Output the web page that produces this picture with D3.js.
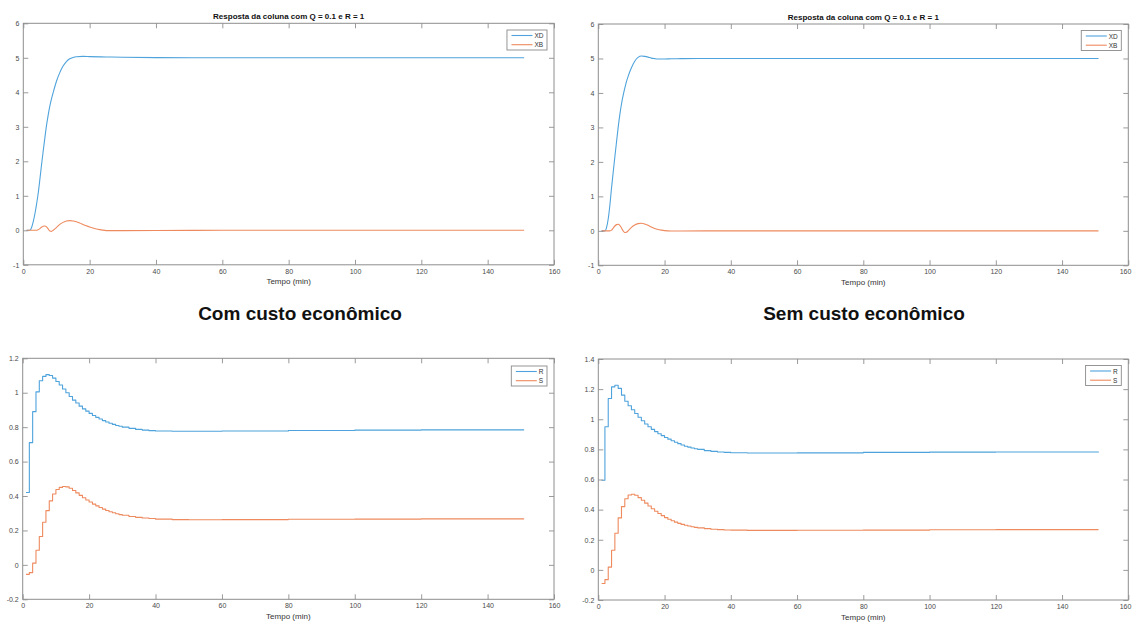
<!DOCTYPE html>
<html>
<head>
<meta charset="utf-8">
<script src="https://cdn.jsdelivr.net/npm/d3@7"></script>
<style>
  html, body { margin: 0; padding: 0; background: #fff; }
  svg { display: block; font-family: "Liberation Sans", Arial, Helvetica, sans-serif; }
</style>
</head>
<body>
<svg id="fig" width="1132" height="623"></svg>
<script>
// ---------- shared axis settings ----------
const xTicks = [0, 20, 40, 60, 80, 100, 120, 140, 160];
const xTickLabels = ["0", "20", "40", "60", "80", "100", "120", "140", "160"];
const yTicksResp = [-1, 0, 1, 2, 3, 4, 5, 6];
const yTickLabelsResp = ["-1", "0", "1", "2", "3", "4", "5", "6"];
const yTicksCtrlCom = [-0.2, 0, 0.2, 0.4, 0.6, 0.8, 1, 1.2];
const yTickLabelsCtrlCom = ["-0.2", "0", "0.2", "0.4", "0.6", "0.8", "1", "1.2"];
const yTicksCtrlSem = [-0.2, 0, 0.2, 0.4, 0.6, 0.8, 1, 1.2, 1.4];
const yTickLabelsCtrlSem = ["-0.2", "0", "0.2", "0.4", "0.6", "0.8", "1", "1.2", "1.4"];

const titleText = "Resposta da coluna com Q = 0.1 e R = 1";
const xLabel = "Tempo (min)";
const respNames = ["XD", "XB"];
const ctrlNames = ["R", "S"];
const caseLabels = ["Com custo econômico", "Sem custo econômico"];

// ---------- column response, with economic cost ----------
const tXdCom = [1, 2, 2.5, 3, 3.5, 4, 4.5, 5, 5.5, 6, 6.5, 7, 7.5, 8, 8.5, 9, 10, 11, 12, 13, 14, 15, 16, 18, 20, 25, 30, 40, 60, 100, 151];
const xdCom  = [0, 0, 0.08, 0.25, 0.48, 0.76, 1.08, 1.48, 1.9, 2.3, 2.68, 3.04, 3.34, 3.6, 3.81, 3.99, 4.32, 4.57, 4.76, 4.89, 4.97, 5.01, 5.03, 5.04, 5.035, 5.025, 5.015, 5.005, 5.0, 5.0, 5.0];
const tXbCom = [1, 4, 5, 5.5, 6, 6.5, 7, 7.5, 8, 8.5, 9, 10, 11, 12, 13, 14, 15, 16, 17, 18, 19, 20, 21, 22, 23, 24, 26, 30, 40, 60, 151];
const xbCom  = [0, 0, 0.05, 0.09, 0.115, 0.125, 0.1, 0.04, -0.02, -0.03, 0.0, 0.08, 0.17, 0.23, 0.27, 0.28, 0.27, 0.245, 0.21, 0.17, 0.13, 0.095, 0.065, 0.04, 0.02, 0.005, -0.01, -0.01, -0.005, 0, 0];

// ---------- column response, without economic cost ----------
const tXdSem = [1, 2, 2.5, 3, 3.5, 4, 4.5, 5, 5.5, 6, 6.5, 7, 7.5, 8, 8.5, 9, 10, 11, 12, 13, 14, 15, 16, 17, 18, 20, 22, 25, 30, 40, 60, 151];
const xdSem  = [0, 0, 0.1, 0.35, 0.75, 1.25, 1.7, 2.15, 2.58, 3.0, 3.37, 3.68, 3.93, 4.14, 4.33, 4.48, 4.73, 4.92, 5.03, 5.07, 5.06, 5.04, 5.01, 4.995, 4.985, 4.985, 4.99, 4.995, 5.0, 5.0, 5.0, 5.0];
const tXbSem = [1, 3.5, 4, 4.5, 5, 5.5, 6, 6.5, 7, 7.5, 8, 8.5, 9, 10, 11, 12, 13, 14, 15, 16, 17, 18, 19, 20, 22, 25, 40, 151];
const xbSem  = [0, 0, 0.02, 0.08, 0.14, 0.18, 0.19, 0.16, 0.08, 0.0, -0.05, -0.04, 0.0, 0.1, 0.17, 0.21, 0.22, 0.2, 0.16, 0.11, 0.07, 0.04, 0.02, 0.005, -0.005, -0.005, 0, 0];

// ---------- sampled control moves (held between samples) ----------
const tCtrl = [1, 2, 3, 4, 5, 6, 7, 8, 9, 10, 11, 12, 13, 14, 15, 16, 17, 18, 19, 20, 21, 22, 23, 24, 25, 26, 27, 28, 29, 30,
               32, 34, 36, 38, 40, 45, 50, 60, 80, 100, 120, 151];
const rCom = [0.42, 0.71, 0.89, 1.005, 1.07, 1.095, 1.105, 1.1, 1.085, 1.065, 1.045, 1.022, 1.0, 0.978, 0.957, 0.94, 0.922, 0.906, 0.893, 0.88,
              0.868, 0.857, 0.847, 0.838, 0.83, 0.823, 0.816, 0.81, 0.805, 0.8,
              0.793, 0.787, 0.783, 0.78, 0.778, 0.776, 0.776, 0.778, 0.781, 0.783, 0.784, 0.784];
const sCom = [-0.055, -0.045, 0.01, 0.085, 0.165, 0.248, 0.315, 0.372, 0.412, 0.438, 0.45, 0.455, 0.453, 0.445, 0.432, 0.418, 0.404, 0.39, 0.377, 0.365,
              0.353, 0.343, 0.333, 0.324, 0.316, 0.309, 0.303, 0.297, 0.292, 0.288,
              0.281, 0.276, 0.272, 0.269, 0.266, 0.263, 0.262, 0.263, 0.265, 0.266, 0.267, 0.267];
const rSem = [0.595, 0.95, 1.138, 1.215, 1.226, 1.205, 1.16, 1.12, 1.09, 1.063, 1.038, 1.013, 0.99, 0.968, 0.95, 0.933, 0.918, 0.904, 0.891, 0.879,
              0.868, 0.857, 0.847, 0.838, 0.829, 0.821, 0.815, 0.809, 0.804, 0.8,
              0.792, 0.787, 0.783, 0.78, 0.778, 0.776, 0.776, 0.777, 0.78, 0.782, 0.783, 0.784];
const sSem = [-0.09, -0.065, 0.018, 0.13, 0.243, 0.345, 0.42, 0.472, 0.497, 0.502, 0.495, 0.48, 0.462, 0.443, 0.424, 0.406, 0.389, 0.374, 0.36, 0.347,
              0.336, 0.326, 0.317, 0.309, 0.302, 0.296, 0.291, 0.286, 0.282, 0.279,
              0.274, 0.27, 0.267, 0.265, 0.264, 0.262, 0.262, 0.263, 0.264, 0.266, 0.267, 0.267];

// ---------- styling ----------
const colBlue = "#4fa3dc";
const colOrange = "#ee8a5e";
const axisColor = "#8e8e8e";
const tickTextColor = "#4a4a4a";
const figWidth = 1132;

const svg = d3.select("#fig");

function zip(ts, vs) { return ts.map((t, i) => ({ t: t, v: vs[i] })); }

function drawPanel(cfg) {
  const x = d3.scaleLinear().domain([0, 160]).range([cfg.left, cfg.right]);
  const y = d3.scaleLinear().domain(cfg.yDomain).range([cfg.bottom, cfg.top]);
  const g = svg.append("g");

  // white plotting area
  g.append("rect")
    .attr("x", cfg.left).attr("y", cfg.top)
    .attr("width", cfg.right - cfg.left).attr("height", cfg.bottom - cfg.top)
    .attr("fill", "#fff");

  // data series
  const line = d3.line()
    .x(d => x(d.t)).y(d => y(d.v))
    .curve(cfg.stairs ? d3.curveStepAfter : d3.curveMonotoneX);
  cfg.series.forEach(s => {
    g.append("path")
      .datum(zip(s.t, s.v))
      .attr("fill", "none")
      .attr("stroke", s.color)
      .attr("stroke-width", 1.1)
      .attr("stroke-linejoin", "round")
      .attr("d", line);
  });

  // axes with inward ticks on all four sides
  const fmtX = (d, i) => xTickLabels[i];
  const fmtY = (d, i) => cfg.yLabels[i];
  const styleAxis = sel => {
    sel.select(".domain").remove();
    sel.selectAll(".tick line").attr("stroke", axisColor).attr("stroke-width", 0.9);
    sel.selectAll(".tick text").attr("fill", tickTextColor).attr("font-size", "7px")
      .attr("font-family", "Liberation Sans, Arial, sans-serif");
  };
  const xAxisG = g.append("g").attr("transform", `translate(0,${cfg.bottom})`)
    .call(d3.axisBottom(x).tickValues(xTicks).tickFormat(fmtX).tickSizeInner(-5).tickSizeOuter(0).tickPadding(4))
    .call(styleAxis);
  // keep the last tick label inside the figure edge
  xAxisG.selectAll(".tick text").each(function () {
    const bb = this.getBBox();
    const ctm = this.parentNode.getCTM();
    const rightEdge = ctm.e + bb.x + bb.width;
    if (rightEdge > figWidth - 0.5) {
      d3.select(this).attr("x", -(rightEdge - (figWidth - 0.5)));
    }
  });
  g.append("g").attr("transform", `translate(0,${cfg.top})`)
    .call(d3.axisTop(x).tickValues(xTicks).tickFormat("").tickSizeInner(-5).tickSizeOuter(0))
    .call(styleAxis);
  g.append("g").attr("transform", `translate(${cfg.left},0)`)
    .call(d3.axisLeft(y).tickValues(cfg.yTicks).tickFormat(fmtY).tickSizeInner(-5).tickSizeOuter(0).tickPadding(4))
    .call(styleAxis);
  g.append("g").attr("transform", `translate(${cfg.right},0)`)
    .call(d3.axisRight(y).tickValues(cfg.yTicks).tickFormat("").tickSizeInner(-5).tickSizeOuter(0))
    .call(styleAxis);

  // box
  g.append("rect")
    .attr("x", cfg.left).attr("y", cfg.top)
    .attr("width", cfg.right - cfg.left).attr("height", cfg.bottom - cfg.top)
    .attr("fill", "none").attr("stroke", axisColor).attr("stroke-width", 1);

  // title
  if (cfg.title) {
    g.append("text")
      .attr("x", (cfg.left + cfg.right) / 2).attr("y", cfg.top - 7)
      .attr("text-anchor", "middle").attr("dominant-baseline", "central")
      .attr("font-size", "8px").attr("font-weight", "bold").attr("fill", "#111")
      .text(cfg.title);
  }
  // x label
  g.append("text")
    .attr("x", (cfg.left + cfg.right) / 2).attr("y", cfg.bottom + 17)
    .attr("text-anchor", "middle").attr("dominant-baseline", "central")
    .attr("font-size", "8px").attr("fill", "#333")
    .text(xLabel);

  // legend
  const lg = g.append("g");
  const names = cfg.series.map(s => s.name);
  const tmp = lg.append("text").attr("font-size", "6.5px").text(names.reduce((a, b) => a.length >= b.length ? a : b));
  const tw = tmp.node().getComputedTextLength();
  tmp.remove();
  const boxW = 4.5 + 21 + 2 + tw + 3.5;
  const boxH = 20;
  const bx = cfg.right - 7 - boxW;
  const by = cfg.legendTop;
  lg.append("rect").attr("x", bx).attr("y", by).attr("width", boxW).attr("height", boxH)
    .attr("fill", "#fff").attr("stroke", "#8a8a8a").attr("stroke-width", 0.9);
  cfg.series.forEach((s, i) => {
    const ry = by + 5.5 + i * 9.2;
    lg.append("line").attr("x1", bx + 4.5).attr("x2", bx + 25.5).attr("y1", ry).attr("y2", ry)
      .attr("stroke", s.color).attr("stroke-width", 1.1);
    lg.append("text").attr("x", bx + 27.5).attr("y", ry).attr("dominant-baseline", "central")
      .attr("font-size", "6.5px").attr("fill", "#333").text(s.name);
  });
}

// top row: column response
drawPanel({
  left: 23.3, right: 554, top: 23.3, bottom: 264.8,
  yDomain: [-1, 6], yTicks: yTicksResp, yLabels: yTickLabelsResp,
  title: titleText, stairs: false, legendTop: 30,
  series: [
    { name: respNames[0], t: tXdCom, v: xdCom, color: colBlue },
    { name: respNames[1], t: tXbCom, v: xbCom, color: colOrange }
  ]
});
drawPanel({
  left: 598.3, right: 1128.3, top: 24, bottom: 265.3,
  yDomain: [-1, 6], yTicks: yTicksResp, yLabels: yTickLabelsResp,
  title: titleText, stairs: false, legendTop: 30.5,
  series: [
    { name: respNames[0], t: tXdSem, v: xdSem, color: colBlue },
    { name: respNames[1], t: tXbSem, v: xbSem, color: colOrange }
  ]
});

// bottom row: control moves
drawPanel({
  left: 22.7, right: 554, top: 358.3, bottom: 599.3,
  yDomain: [-0.2, 1.2], yTicks: yTicksCtrlCom, yLabels: yTickLabelsCtrlCom,
  title: null, stairs: true, legendTop: 366,
  series: [
    { name: ctrlNames[0], t: tCtrl, v: rCom, color: colBlue },
    { name: ctrlNames[1], t: tCtrl, v: sCom, color: colOrange }
  ]
});
drawPanel({
  left: 598.3, right: 1128.3, top: 359, bottom: 600,
  yDomain: [-0.2, 1.4], yTicks: yTicksCtrlSem, yLabels: yTickLabelsCtrlSem,
  title: null, stairs: true, legendTop: 365.5,
  series: [
    { name: ctrlNames[0], t: tCtrl, v: rSem, color: colBlue },
    { name: ctrlNames[1], t: tCtrl, v: sSem, color: colOrange }
  ]
});

// case captions between the rows
[[300, caseLabels[0]], [864, caseLabels[1]]].forEach(([cx, label]) => {
  svg.append("text")
    .attr("x", cx).attr("y", 313)
    .attr("text-anchor", "middle").attr("dominant-baseline", "central")
    .attr("font-size", "19px").attr("font-weight", "bold").attr("fill", "#111")
    .text(label);
});
</script>
</body>
</html>
